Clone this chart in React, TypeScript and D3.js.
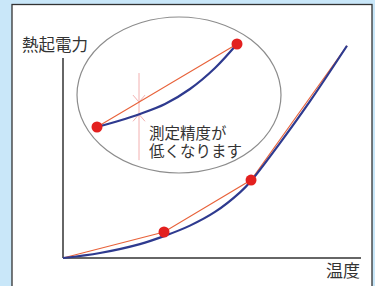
import React from "react";
import * as d3 from "d3";

// main curve: thermoelectric EMF vs temperature (arbitrary units 0-100)
const curveT = [0, 12.4, 25.8, 33.9, 42.6, 51.0, 59.4, 63.1, 72.8, 82.9, 95.3];
const curveE = [0, 2.2, 6.1, 9.6, 14.2, 20.2, 28.8, 33.8, 50.4, 68.8, 93.1];

// calibration points (red dots) and the straight segments between them
const calT = [33.9, 63.1];
const calE = [11.4, 34.2];
const segT = [0, 33.9, 63.1, 95.3];
const segE = [0, 11.4, 34.2, 93.1];

// zoomed-in detail inside the ellipse
const zoomT = [0, 16.4, 30.7, 48.6, 66.4, 84.3, 100];
const zoomE = [0, 7.8, 15.7, 27.7, 45.8, 71.1, 100];
const zoomDotT = [0, 100];
const zoomDotE = [0, 100];
const markT = 30;
const markRange = [-40, 65];
const markTips = [30, 15.3]; // chord value, curve value at markT

const yLabel = "熱起電力";
const xLabel = "温度";
const note = ["測定精度が", "低くなります"];

const W = 375;
const H = 286;
const font = "'Noto Sans CJK JP', 'Noto Sans', sans-serif";

export default function App() {
  const x = d3.scaleLinear().domain([0, 100]).range([63, 361]);
  const y = d3.scaleLinear().domain([0, 100]).range([258, 30]);

  // inset scales
  const zx = d3.scaleLinear().domain([0, 100]).range([97, 237]);
  const zy = d3.scaleLinear().domain([0, 100]).range([127, 44]);

  const smooth = d3
    .line<number>()
    .x((_, i) => x(curveT[i]))
    .y((d) => y(d))
    .curve(d3.curveCatmullRom.alpha(0.5));
  const straight = d3
    .line<number>()
    .x((_, i) => x(segT[i]))
    .y((d) => y(d));
  const zSmooth = d3
    .line<number>()
    .x((_, i) => zx(zoomT[i]))
    .y((d) => zy(d))
    .curve(d3.curveCatmullRom.alpha(0.5));

  const mx = zx(markT);
  const tipA = zy(markTips[0]);
  const tipB = zy(markTips[1]);

  return (
    <svg
      width={W}
      height={H}
      style={{ position: "absolute", left: 0, top: 0, display: "block" }}
    >
      <rect x={0} y={0} width={W} height={H} fill="#c9e7f9" />
      <rect x={12} y={4.5} width={360} height={300} fill="#fff" stroke="#333" strokeWidth={1.3} />

      {/* ellipse callout */}
      <ellipse cx={179} cy={95} rx={102} ry={78} fill="none" stroke="#8c8c8c" strokeWidth={1.2} />

      {/* measurement mark */}
      <g stroke="#f2b0b0" strokeWidth={1} fill="none">
        <line x1={mx} x2={mx} y1={zy(markRange[1])} y2={zy(markRange[0])} />
        <polyline points={`${mx - 6},${tipA - 7} ${mx},${tipA} ${mx + 6},${tipA - 7}`} />
        <polyline points={`${mx - 6},${tipB + 7} ${mx},${tipB} ${mx + 6},${tipB + 7}`} />
      </g>

      {/* inset chord + curve */}
      <line
        x1={zx(zoomDotT[0])}
        y1={zy(zoomDotE[0])}
        x2={zx(zoomDotT[1])}
        y2={zy(zoomDotE[1])}
        stroke="#e8623a"
        strokeWidth={1.1}
      />
      <path d={zSmooth(zoomE) ?? ""} fill="none" stroke="#2e3a8f" strokeWidth={2.2} />
      {zoomDotT.map((t, i) => (
        <circle key={i} cx={zx(t)} cy={zy(zoomDotE[i])} r={5.5} fill="#e3201f" />
      ))}

      {/* axes */}
      <line x1={x(0)} x2={x(0)} y1={58} y2={y(0)} stroke="#333" strokeWidth={1.5} />
      <line x1={x(0)} x2={361} y1={y(0)} y2={y(0)} stroke="#333" strokeWidth={1.5} />

      {/* main chart */}
      <path d={straight(segE) ?? ""} fill="none" stroke="#e8623a" strokeWidth={1.1} />
      <path d={smooth(curveE) ?? ""} fill="none" stroke="#2e3a8f" strokeWidth={2.2} />
      {calT.map((t, i) => (
        <circle key={i} cx={x(t)} cy={y(calE[i])} r={5.5} fill="#e3201f" />
      ))}

      {/* labels */}
      <g fontFamily={font} fill="#333">
        <text x={22} y={51} fontSize={16.5}>
          {yLabel}
        </text>
        <text x={360} y={277} fontSize={17} textAnchor="end">
          {xLabel}
        </text>
        {note.map((s, i) => (
          <text key={i} x={149} y={139 + i * 18} fontSize={15.5}>
            {s}
          </text>
        ))}
      </g>
    </svg>
  );
}
